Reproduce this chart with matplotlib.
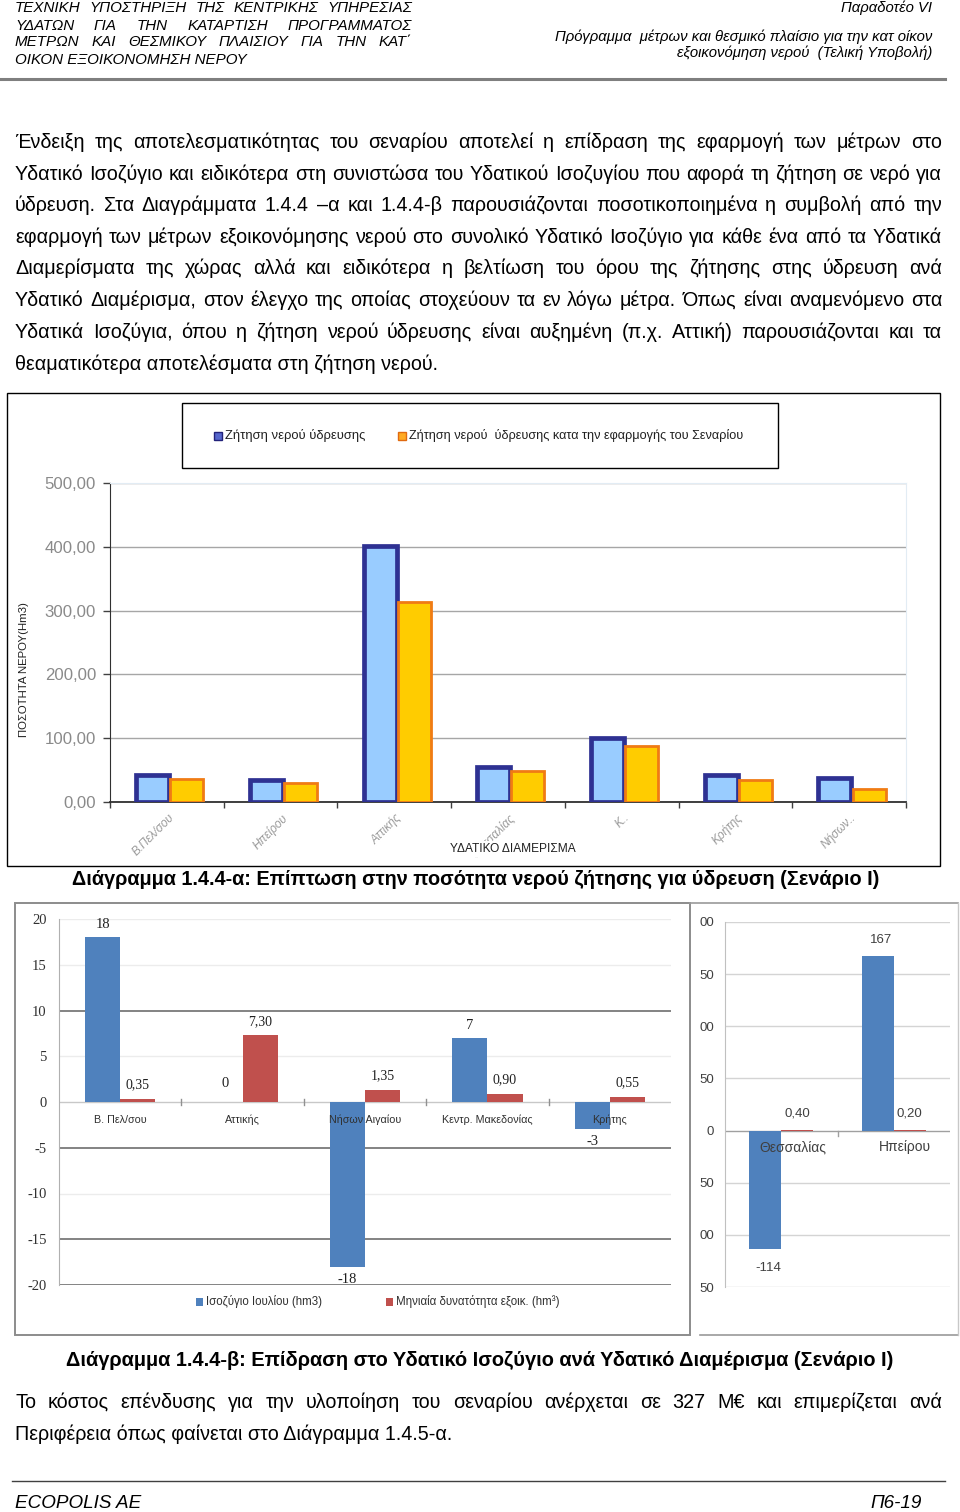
import matplotlib
matplotlib.use('Agg')
import matplotlib.pyplot as plt
from matplotlib.lines import Line2D
from matplotlib.patches import Rectangle

# ---------------- data ----------------
c1_categories = ['Β.Πελ/σου', 'Ηπείρου', 'Αττικής', 'Θεσσαλίας', 'Κ..', 'Κρήτης', 'Νήσων..']
c1_demand = [42, 34, 402, 55, 100, 43, 38]
c1_after = [36, 30, 313, 48, 88, 34, 20]
c1_yticks = [0, 100, 200, 300, 400, 500]
c1_yticklabels = ['0,00', '100,00', '200,00', '300,00', '400,00', '500,00']
c1_legend = ['Ζήτηση νερού ύδρευσης', 'Ζήτηση νερού  ύδρευσης κατα την εφαρμογής του Σεναρίου']

c2_categories = ['Β. Πελ/σου', 'Αττικής', 'Νήσων Αιγαίου', 'Κεντρ. Μακεδονίας', 'Κρήτης']
c2_balance = [18, 0, -18, 7, -3]
c2_saving = [0.35, 7.30, 1.35, 0.90, 0.55]
c2_yticks = [20, 15, 10, 5, 0, -5, -10, -15, -20]
c2_legend = ['Ισοζύγιο Ιουλίου (hm3)', 'Μηνιαία δυνατότητα εξοικ. (hm³)']

c3_categories = ['Θεσσαλίας', 'Ηπείρου']
c3_balance = [-114, 167]
c3_saving = [0.40, 0.20]
c3_yticks = [200, 150, 100, 50, 0, -50, -100, -150]
c3_yticklabels = ['00', '50', '00', '50', '0', '50', '00', '50']

header_left = ['ΤΕΧΝΙΚΗ  ΥΠΟΣΤΗΡΙΞΗ  ΤΗΣ  ΚΕΝΤΡΙΚΗΣ  ΥΠΗΡΕΣΙΑΣ',
               'ΥΔΑΤΩΝ  ΓΙΑ  ΤΗΝ  ΚΑΤΑΡΤΙΣΗ  ΠΡΟΓΡΑΜΜΑΤΟΣ',
               'ΜΕΤΡΩΝ  ΚΑΙ  ΘΕΣΜΙΚΟΥ  ΠΛΑΙΣΙΟΥ  ΓΙΑ  ΤΗΝ  ΚΑΤ΄',
               'ΟΙΚΟΝ ΕΞΟΙΚΟΝΟΜΗΣΗ ΝΕΡΟΥ']
header_right = ['Παραδοτέο VI',
                'Πρόγραμμα  μέτρων και θεσμικό πλαίσιο για την κατ οίκον',
                'εξοικονόμηση νερού  (Τελική Υποβολή)']
para1 = ['Ένδειξη της αποτελεσματικότητας του σεναρίου αποτελεί η επίδραση της εφαρμογή των μέτρων στο',
         'Υδατικό Ισοζύγιο και ειδικότερα στη συνιστώσα του Υδατικού Ισοζυγίου που αφορά τη ζήτηση σε νερό για',
         'ύδρευση. Στα Διαγράμματα 1.4.4 –α και 1.4.4-β παρουσιάζονται ποσοτικοποιημένα η συμβολή από την',
         'εφαρμογή των μέτρων εξοικονόμησης νερού στο συνολικό Υδατικό Ισοζύγιο για κάθε ένα από τα Υδατικά',
         'Διαμερίσματα της χώρας αλλά και ειδικότερα η βελτίωση του όρου της ζήτησης στης ύδρευση ανά',
         'Υδατικό Διαμέρισμα, στον έλεγχο της οποίας στοχεύουν τα εν λόγω μέτρα. Όπως είναι αναμενόμενο στα',
         'Υδατικά Ισοζύγια, όπου η ζήτηση νερού ύδρευσης είναι αυξημένη (π.χ. Αττική) παρουσιάζονται και τα',
         'θεαματικότερα αποτελέσματα στη ζήτηση νερού.']
caption1 = 'Διάγραμμα 1.4.4-α: Επίπτωση στην ποσότητα νερού ζήτησης για ύδρευση (Σενάριο Ι)'
caption2 = 'Διάγραμμα 1.4.4-β: Επίδραση στο Υδατικό Ισοζύγιο ανά Υδατικό Διαμέρισμα (Σενάριο Ι)'
para2 = ['Το κόστος επένδυσης για την υλοποίηση του σεναρίου ανέρχεται σε 327 Μ€ και επιμερίζεται ανά',
         'Περιφέρεια όπως φαίνεται στο Διάγραμμα 1.4.5-α.']
footer_left = 'ECOPOLIS AE'
footer_right = 'Π6-19'

# ---------------- helpers ----------------
W, H = 960, 1512
fig = plt.figure(figsize=(9.6, 15.12), dpi=100)
fig.patch.set_facecolor('white')
renderer = fig.canvas.get_renderer()
SANS = ['Liberation Sans', 'DejaVu Sans']
SERIF = ['Liberation Serif', 'DejaVu Serif']


def fx(x):
    return x / W


def fy(y):
    return 1 - y / H


def measure(s, size, family=SANS, **kw):
    t = fig.text(0, 0, s, fontsize=size, family=family, **kw)
    w = t.get_window_extent(renderer).width
    t.remove()
    return w


def fit(s, width, family=SANS, **kw):
    return 12 * width / measure(s, 12, family=family, **kw)


def ptext(x, y, s, size, family=SANS, **kw):
    kw.setdefault('va', 'baseline')
    return fig.text(fx(x), fy(y), s, fontsize=size, family=family, **kw)


def justified(s, x0, x1, ybase, size, family=SANS, **kw):
    words = s.split()
    widths = [measure(w, size, family=family, **kw) for w in words]
    gap = (x1 - x0 - sum(widths)) / max(len(words) - 1, 1)
    x = x0
    for w, wd in zip(words, widths):
        fig.text(fx(x), fy(ybase), w, fontsize=size, family=family,
                 va='baseline', ha='left', **kw)
        x += wd + gap


def hline(y, x0, x1, color, lw):
    fig.add_artist(Line2D([fx(x0), fx(x1)], [fy(y), fy(y)], color=color, lw=lw,
                          transform=fig.transFigure))


def vline(x, y0, y1, color, lw):
    fig.add_artist(Line2D([fx(x), fx(x)], [fy(y0), fy(y1)], color=color, lw=lw,
                          transform=fig.transFigure))


def rect(x0, y0, x1, y1, color, lw):
    fig.add_artist(Rectangle((fx(x0), fy(y1)), fx(x1) - fx(x0), fy(y0) - fy(y1),
                             fill=False, edgecolor=color, lw=lw, transform=fig.transFigure))


def add_ax(x0, y0, x1, y1):
    return fig.add_axes([fx(x0), fy(y1), fx(x1) - fx(x0), fy(y0) - fy(y1)])


# ---------------- header ----------------
hs = fit(header_left[3], 231, style='italic')
for line, yb in zip(header_left[:3], [12.5, 29.5, 46.5]):
    justified(line, 15, 412, yb, hs, style='italic')
ptext(15, 63.5, header_left[3], hs, style='italic')
rs = fit(header_right[1], 377, style='italic')
for line, yb in zip(header_right, [12, 40.5, 57.5]):
    ptext(932, yb, line, rs, style='italic', ha='right')
hline(78.5, 0, 945, '#7f7f7f', 2.2)

# ---------------- paragraph 1 ----------------
bs = fit(para1[-1], 424)
bases = [148, 179.5, 211, 243, 274.5, 306, 338, 369.5]
for i, (line, yb) in enumerate(zip(para1, bases)):
    if i < len(para1) - 1:
        justified(line, 15, 942, yb, bs)
    else:
        ptext(15, yb, line, bs)

# ---------------- chart 1 ----------------
rect(7, 393, 940, 866, '#000000', 1.0)
rect(182, 403, 778, 468, '#000000', 1.0)
ls = fit(c1_legend[0], 141)
fig.add_artist(Rectangle((fx(214), fy(440)), 8 / W, 8 / H, facecolor='#5566cc',
                         edgecolor='#22227a', lw=1, transform=fig.transFigure))
fig.add_artist(Rectangle((fx(398), fy(440)), 8 / W, 8 / H, facecolor='#ffaa22',
                         edgecolor='#e06a10', lw=1, transform=fig.transFigure))
ptext(225, 436, c1_legend[0], ls, va='center', color='#202020')
ptext(409, 436, c1_legend[1], ls * 0.97, va='center', color='#202020')

ax1 = add_ax(110, 483, 906, 802)
xs = list(range(len(c1_categories)))
bw = 0.29
ax1.bar([x - bw / 2 + 0.02 for x in xs], c1_demand, width=bw, color='#99ccff',
        edgecolor='#2e3192', linewidth=3.4, zorder=3)
ax1.bar([x + bw / 2 + 0.03 for x in xs], c1_after, width=bw, color='#ffcc00',
        edgecolor='#f07b14', linewidth=2.0, zorder=3)
ax1.set_xlim(-0.5, len(xs) - 0.5)
ax1.set_ylim(0, 500)
ax1.set_yticks(c1_yticks)
ax1.set_yticklabels(c1_yticklabels, family=SANS, fontsize=fit('500,00', 51), color='#8a8a8a')
ax1.set_xticks([x - 0.5 for x in range(len(xs) + 1)])
ax1.set_xticklabels([])
ax1.tick_params(axis='y', direction='out', length=5, width=1, color='#404040', pad=5)
ax1.tick_params(axis='x', direction='out', length=4.5, width=1, color='#404040')
ax1.yaxis.grid(True, color='#a6a6a6', lw=1)
ax1.set_axisbelow(True)
for s in ['top', 'right']:
    ax1.spines[s].set_color('#e2ecf4')
for s in ['left', 'bottom']:
    ax1.spines[s].set_color('#303030')
ax1.spines['bottom'].set_linewidth(1.3)
xl_size = fit('Β.Πελ/σου', 54, style='italic')
for x, lab in zip(xs, c1_categories):
    ax1.annotate(lab, xy=(x, 0), xycoords=('data', 'data'), xytext=(7, -7),
                 textcoords='offset points', rotation=45, ha='right', va='top',
                 fontsize=xl_size, family=SANS, style='italic', color='#9a9a9a',
                 annotation_clip=False)
ptext(513, 849, 'ΥΔΑΤΙΚΟ ΔΙΑΜΕΡΙΣΜΑ', fit('ΥΔΑΤΙΚΟ ΔΙΑΜΕΡΙΣΜΑ', 125), va='center',
      ha='center', color='#202020',
      bbox=dict(facecolor='white', edgecolor='none', pad=1.5))
ptext(24, 670, 'ΠΟΣΟΤΗΤΑ ΝΕΡΟΥ(Hm3)', fit('ΠΟΣΟΤΗΤΑ ΝΕΡΟΥ(Hm3)', 135), va='center',
      ha='center', rotation=90, color='#202020')

cs = fit(caption1, 807, weight='bold')
ptext(475.5, 885, caption1, cs, weight='bold', ha='center')

# ---------------- chart 2 (left) ----------------
rect(15, 903, 690, 1335, '#8c8c8c', 1.4)
ax2 = add_ax(59, 919, 671, 1285)
xs2 = list(range(len(c2_categories)))
bw2 = 0.287
ax2.bar([x - bw2 / 2 for x in xs2], c2_balance, width=bw2, color='#4f81bd', zorder=3)
ax2.bar([x + bw2 / 2 for x in xs2], c2_saving, width=bw2, color='#c0504d', zorder=3)
ax2.set_xlim(-0.5, len(xs2) - 0.5)
ax2.set_ylim(-20, 20)
strong = {10, -5, -15, -20}
for v in c2_yticks:
    if v == 0:
        ax2.axhline(v, color='#c8c8c8', lw=1, zorder=1)
    elif v in strong:
        ax2.axhline(v, color='#7a7a7a', lw=1.3, zorder=1)
    else:
        ax2.axhline(v, color='#ececec', lw=1, zorder=1)
ax2.set_yticks(c2_yticks)
ax2.set_yticklabels([str(v) for v in c2_yticks], family=SERIF, fontsize=10.5, color='#303030')
ax2.tick_params(axis='y', length=0, pad=9)
ax2.set_xticks([])
for s in ['top', 'right', 'bottom']:
    ax2.spines[s].set_visible(False)
ax2.spines['left'].set_color('#b0b0b0')
for b in [0.5, 1.5, 2.5, 3.5]:
    ax2.plot([b, b], [-0.3, 0.3], color='#909090', lw=1, zorder=2)
for x, v in zip(xs2, c2_balance):
    off = 9 if v >= 0 else -9
    if v == 0:
        off = 13
    ax2.annotate(str(v), xy=(x - bw2 / 2, v), xytext=(0, off), textcoords='offset points',
                 ha='center', va='center', fontsize=10.5, family=SERIF, color='#202020')
for x, v in zip(xs2, c2_saving):
    ax2.annotate(f'{v:.2f}'.replace('.', ','), xy=(x + bw2 / 2, v), xytext=(0, 10),
                 textcoords='offset points', ha='center', va='center', fontsize=10,
                 family=SERIF, color='#202020')
for x, lab in zip(xs2, c2_categories):
    ax2.text(x, -1.95, lab, ha='center', va='center', fontsize=fit('Κεντρ. Μακεδονίας', 91),
             family=SANS, color='#303030', zorder=5)
fig.add_artist(Rectangle((fx(196), fy(1306)), 7 / W, 8 / H, facecolor='#4f81bd',
                         edgecolor='none', transform=fig.transFigure))
fig.add_artist(Rectangle((fx(386), fy(1306)), 7 / W, 8 / H, facecolor='#c0504d',
                         edgecolor='none', transform=fig.transFigure))
lg2 = fit(c2_legend[1], 164)
ptext(206, 1302, c2_legend[0], lg2, va='center', color='#303030')
ptext(396, 1302, c2_legend[1], lg2, va='center', color='#303030')

# ---------------- chart 2 (right) ----------------
hline(903, 690, 958, '#9a9a9a', 1.2)
hline(1335, 700, 958, '#9a9a9a', 1.2)
vline(958, 903, 1335, '#c8c8c8', 1.0)
ax3 = add_ax(725, 922, 950, 1287)
xs3 = list(range(len(c3_categories)))
bw3 = 0.285
ax3.bar([x - bw3 / 2 for x in xs3], c3_balance, width=bw3, color='#4f81bd', zorder=3)
ax3.bar([x + bw3 / 2 for x in xs3], c3_saving, width=bw3, color='#c0504d', zorder=3)
ax3.set_xlim(-0.5, len(xs3) - 0.5)
ax3.set_ylim(-150, 200)
for v in c3_yticks:
    ax3.axhline(v, color='#a0a0a0' if v == 0 else '#d4d4d4', lw=1, zorder=1)
ax3.set_yticks(c3_yticks)
ax3.set_yticklabels(c3_yticklabels, family=SANS, fontsize=9.5, color='#404040')
ax3.tick_params(axis='y', length=0, pad=8)
ax3.set_xticks([])
for s in ['top', 'right', 'bottom']:
    ax3.spines[s].set_visible(False)
ax3.spines['left'].set_color('#c0c0c0')
ax3.plot([0.5, 0.5], [0, -5], color='#a0a0a0', lw=1, zorder=2)
for x, v in zip(xs3, c3_balance):
    off = 12 if v >= 0 else -13
    ax3.annotate(str(v), xy=(x - bw3 / 2 + 0.03, v), xytext=(0, off), textcoords='offset points',
                 ha='center', va='center', fontsize=9.5, family=SANS, color='#404040')
for x, v in zip(xs3, c3_saving):
    ax3.annotate(f'{v:.2f}'.replace('.', ','), xy=(x + bw3 / 2, v), xytext=(0, 12),
                 textcoords='offset points', ha='center', va='center', fontsize=9.5,
                 family=SANS, color='#404040')
for x, lab in zip(xs3, c3_categories):
    ax3.text(x + 0.1, -16, lab, ha='center', va='center', fontsize=10,
             family=SANS, color='#404040', zorder=5)

cs2 = fit(caption2, 827, weight='bold')
ptext(479.5, 1366, caption2, cs2, weight='bold', ha='center')

# ---------------- paragraph 2 ----------------
justified(para2[0], 15, 942, 1408, bs)
ptext(15, 1440, para2[1], bs)

# ---------------- footer ----------------
hline(1481, 12, 945, '#404040', 1.0)
fs = fit(footer_left, 126, style='italic')
ptext(15, 1507.5, footer_left, fs, style='italic')
ptext(922, 1507.5, footer_right, fs, style='italic', ha='right')

fig.savefig('out.png', dpi=100, facecolor='white')
